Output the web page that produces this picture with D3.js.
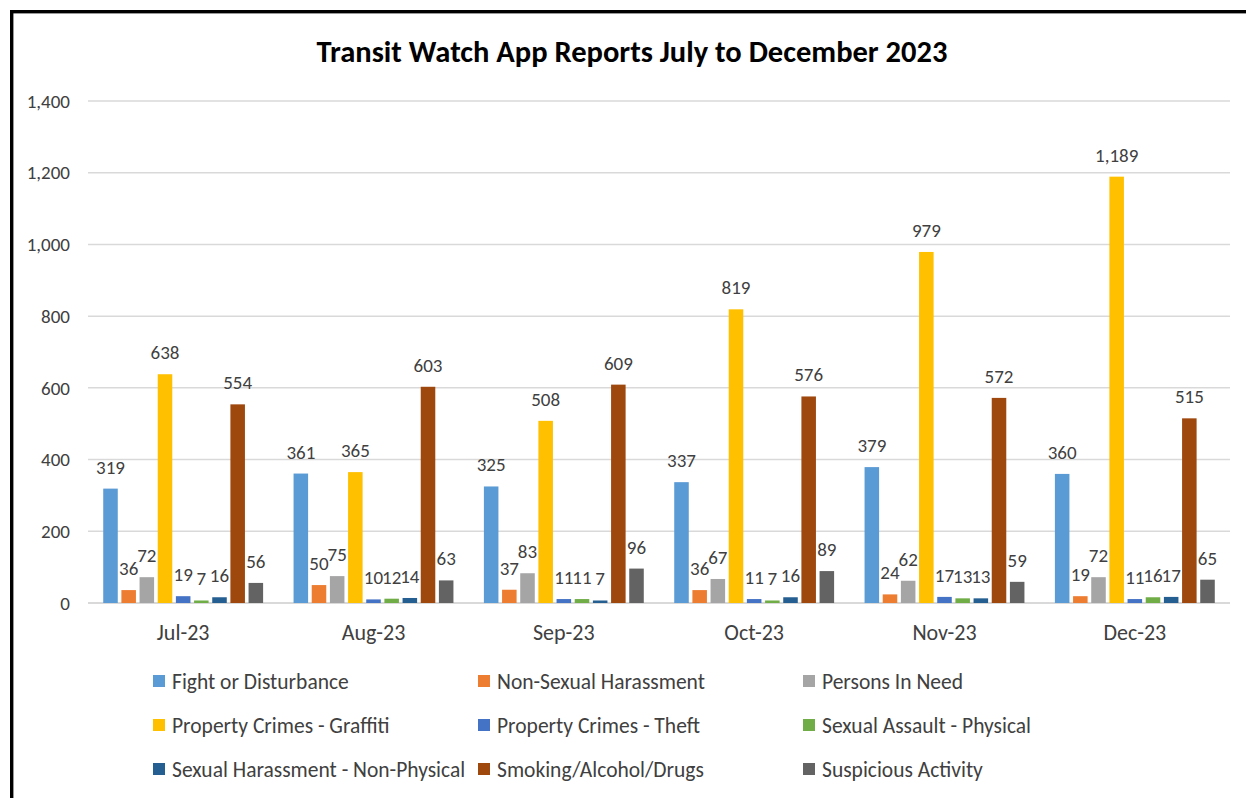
<!DOCTYPE html>
<html>
<head>
<meta charset="utf-8">
<script src="https://cdn.jsdelivr.net/npm/d3@7"></script>
<style>
  body { margin: 0; background: #fff; }
  text { font-family: Carlito, Calibri, Lato, sans-serif; }
</style>
</head>
<body>
<script>
// months on the x axis
var months = ["Jul-23", "Aug-23", "Sep-23", "Oct-23", "Nov-23", "Dec-23"];

// report categories (legend order)
var categories = [
  "Fight or Disturbance", "Non-Sexual Harassment", "Persons In Need",
  "Property Crimes - Graffiti", "Property Crimes - Theft", "Sexual Assault - Physical",
  "Sexual Harassment - Non-Physical", "Smoking/Alcohol/Drugs", "Suspicious Activity"
];

// one array per category, Jul..Dec
var fight      = [319, 361, 325, 337, 379, 360];
var nonSexual  = [36, 50, 37, 36, 24, 19];
var personsIn  = [72, 75, 83, 67, 62, 72];
var graffiti   = [638, 365, 508, 819, 979, 1189];
var theft      = [19, 10, 11, 11, 17, 11];
var assault    = [7, 12, 11, 7, 13, 16];
var harassment = [16, 14, 7, 16, 13, 17];
var smoking    = [554, 603, 609, 576, 572, 515];
var suspicious = [56, 63, 96, 89, 59, 65];

var yTicks = [0, 200, 400, 600, 800, 1000, 1200, 1400];

var series = [fight, nonSexual, personsIn, graffiti, theft, assault, harassment, smoking, suspicious];
var colors = ["#5B9BD5", "#ED7D31", "#A5A5A5", "#FFC000", "#4472C4", "#70AD47", "#255E91", "#9E480E", "#636363"];

var width = 1246, height = 798;
var plotLeft = 88, plotRight = 1230, plotTop = 101, plotBottom = 603;

var svg = d3.select("body").append("svg")
  .attr("width", width)
  .attr("height", height);

// chart frame (runs off the right/bottom like the screenshot)
svg.append("rect")
  .attr("x", 11.7).attr("y", 11.7)
  .attr("width", 1400).attr("height", 1000)
  .attr("fill", "none")
  .attr("stroke", "#000")
  .attr("stroke-width", 3.4);

// title
svg.append("text")
  .attr("x", 632).attr("y", 62)
  .attr("text-anchor", "middle")
  .style("font-size", "30.5px")
  .style("font-weight", "bold")
  .attr("fill", "#000")
  .text("Transit Watch App Reports July to December 2023");

var x0 = d3.scaleBand().domain(months).range([plotLeft, plotRight]);
var x1 = d3.scaleBand().domain(d3.range(categories.length))
  .range([x0.bandwidth() * 0.08, x0.bandwidth() * 0.92])
  .paddingInner(0.2);
var y = d3.scaleLinear().domain([0, 1400]).range([plotBottom, plotTop]);

// gridlines
svg.append("g")
  .selectAll("line")
  .data(yTicks)
  .enter().append("line")
  .attr("x1", plotLeft).attr("x2", plotRight)
  .attr("y1", function(d) { return y(d); })
  .attr("y2", function(d) { return y(d); })
  .attr("stroke", "#d9d9d9")
  .attr("stroke-width", function(d) { return d === 0 ? 2 : 1.5; });

// y axis labels
svg.append("g")
  .selectAll("text")
  .data(yTicks)
  .enter().append("text")
  .attr("x", 70)
  .attr("y", function(d) { return y(d); })
  .attr("dy", "0.35em")
  .attr("text-anchor", "end")
  .style("font-size", "19px")
  .attr("fill", "#404040")
  .text(d3.format(","));

// x axis labels
svg.append("g")
  .selectAll("text")
  .data(months)
  .enter().append("text")
  .attr("x", function(d) { return x0(d) + x0.bandwidth() / 2; })
  .attr("y", 632)
  .attr("dy", "0.35em")
  .attr("text-anchor", "middle")
  .style("font-size", "22px")
  .attr("fill", "#404040")
  .text(function(d) { return d; });

// flatten to one record per bar
var bars = [];
months.forEach(function(m, i) {
  series.forEach(function(s, j) {
    bars.push({ month: m, cat: j, value: s[i] });
  });
});

var groups = svg.append("g");
groups.selectAll("rect")
  .data(bars)
  .enter().append("rect")
  .attr("x", function(d) { return x0(d.month) + x1(d.cat); })
  .attr("y", function(d) { return y(d.value); })
  .attr("width", x1.bandwidth())
  .attr("height", function(d) { return y(0) - y(d.value); })
  .attr("fill", function(d) { return colors[d.cat]; });

// data labels
groups.selectAll("text")
  .data(bars)
  .enter().append("text")
  .attr("x", function(d) { return x0(d.month) + x1(d.cat) + x1.bandwidth() / 2; })
  .attr("y", function(d) { return y(d.value) - 15; })
  .attr("text-anchor", "middle")
  .style("font-size", "19px")
  .attr("fill", "#404040")
  .text(function(d) { return d3.format(",")(d.value); });

// legend, 3 columns
var legend = svg.append("g")
  .selectAll("g")
  .data(categories)
  .enter().append("g")
  .attr("transform", function(d, i) {
    return "translate(" + (153 + (i % 3) * 325) + "," + (681 + Math.floor(i / 3) * 44) + ")";
  });
legend.append("rect")
  .attr("x", 0).attr("y", -6)
  .attr("width", 12).attr("height", 12)
  .attr("fill", function(d, i) { return colors[i]; });
legend.append("text")
  .attr("x", 19)
  .attr("dy", "0.35em")
  .style("font-size", "21.5px")
  .attr("fill", "#404040")
  .text(function(d) { return d; });
</script>
</body>
</html>
